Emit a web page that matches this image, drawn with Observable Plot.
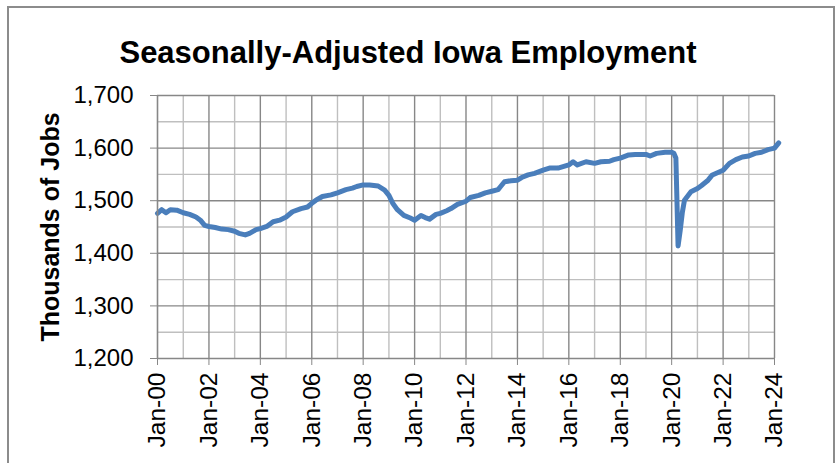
<!DOCTYPE html>
<html>
<head>
<meta charset="utf-8">
<script src="https://cdn.jsdelivr.net/npm/d3@7"></script>
<script src="https://cdn.jsdelivr.net/npm/@observablehq/plot@0.6"></script>
<style>
  html, body { margin: 0; padding: 0; background: #fff; }
  #wrap { position: relative; width: 836px; height: 463px; overflow: hidden; font-family: "Liberation Sans", Arial, sans-serif; }
  #box { position: absolute; left: 7px; top: 6px; width: 824px; height: 480px; border: 2px solid #8c8c8c; }
  #title { position: absolute; left: 0; width: 816px; top: 37px; text-align: center; font-size: 31px; line-height: 1; font-weight: bold; color: #000; }
  #chart { position: absolute; left: 0; top: 0; }
</style>
</head>
<body>
<div id="wrap">
  <div id="box"></div>
  <div id="title">Seasonally-Adjusted Iowa Employment</div>
  <div id="chart"></div>
</div>
<script>
// Data (monthly points, thousands of jobs)
const months = [
  "2000-01","2000-03","2000-05","2000-07","2000-10",
  "2001-01","2001-04","2001-07","2001-09","2001-11",
  "2002-01","2002-04","2002-07","2002-10",
  "2003-01","2003-03","2003-06","2003-08","2003-11",
  "2004-01","2004-04","2004-07","2004-10",
  "2005-01","2005-04","2005-08","2005-11",
  "2006-01","2006-03","2006-06","2006-10",
  "2007-01","2007-05","2007-08","2007-10",
  "2008-01","2008-04","2008-08","2008-11",
  "2009-01","2009-03","2009-05","2009-08","2009-11",
  "2010-01","2010-04","2010-06","2010-08","2010-11",
  "2011-01","2011-04","2011-06","2011-09",
  "2012-01","2012-03","2012-07","2012-10",
  "2013-01","2013-04","2013-05","2013-07","2013-10",
  "2014-01","2014-03","2014-06","2014-09",
  "2015-01","2015-04","2015-08",
  "2016-01","2016-03","2016-05","2016-09",
  "2017-01","2017-04","2017-08","2017-10",
  "2018-01","2018-05","2018-08",
  "2019-01","2019-03","2019-06","2019-10",
  "2020-01","2020-02","2020-03","2020-04","2020-05","2020-06","2020-07","2020-10",
  "2021-01","2021-03","2021-06","2021-08",
  "2022-01","2022-04","2022-07","2022-10",
  "2023-01","2023-04","2023-07","2023-10",
  "2024-01","2024-03"
];
const jobs = [
  1476,1483,1477,1483,1482,
  1477,1474,1469,1463,1453,
  1451,1449,1446,1445,
  1442,1438,1435,1438,1445,
  1447,1451,1460,1463,
  1469,1479,1485,1488,
  1495,1501,1508,1511,
  1515,1521,1524,1527,
  1530,1530,1528,1520,
  1510,1494,1483,1472,1467,
  1463,1472,1468,1465,1474,
  1476,1481,1485,1493,
  1499,1506,1510,1515,
  1518,1521,1526,1536,1538,
  1539,1544,1549,1552,
  1558,1562,1562,
  1568,1574,1568,1574,
  1571,1574,1575,1578,
  1581,1587,1588,
  1588,1585,1590,1592,
  1592,1590,1581,1414,1443,1478,1501,1517,
  1523,1529,1539,1549,
  1558,1571,1578,1583,
  1585,1590,1592,1597,
  1600,1610
];
const xTickYears = [2000,2002,2004,2006,2008,2010,2012,2014,2016,2018,2020,2022,2024];
const yTicks = [1200,1300,1400,1500,1600,1700];
const yLabel = "Thousands of Jobs";

const parse = d3.utcParse("%Y-%m");
const data = months.map((m, i) => ({date: parse(m), value: jobs[i]}));
const yr = y => new Date(Date.UTC(y, 0, 1));
const allYears = d3.range(2001, 2025);
const majorYearDates = allYears.filter(y => y % 2 === 0).map(yr);
const minorYearDates = allYears.filter(y => y % 2 === 1).map(yr);
const majorY = [1300,1400,1500,1600,1700];
const minorY = [1250,1350,1450,1550,1650];

const dark = "#878787", light = "#bfbfbf";

const chart = Plot.plot({
  width: 836,
  height: 463,
  marginLeft: 157,
  marginRight: 62,
  marginTop: 95,
  marginBottom: 105,
  style: {fontFamily: "'Liberation Sans', Arial, sans-serif", background: "transparent", color: "#000", overflow: "visible"},
  x: {type: "utc", domain: [yr(2000), yr(2024)]},
  y: {domain: [1200, 1700]},
  marks: [
    Plot.ruleX(minorYearDates, {x: d => d, stroke: light, strokeWidth: 1.4}),
    Plot.ruleY(minorY, {y: d => d, stroke: light, strokeWidth: 1.4}),
    Plot.ruleX(majorYearDates, {x: d => d, stroke: dark, strokeWidth: 1.4}),
    Plot.ruleY(majorY, {y: d => d, stroke: dark, strokeWidth: 1.4}),
    Plot.line(data, {x: "date", y: "value", stroke: "#4a7ebb", strokeWidth: 5, strokeLinejoin: "round", strokeLinecap: "round"}),
    Plot.ruleY([1200], {y: d => d, stroke: dark, strokeWidth: 1.6}),
    Plot.ruleX([yr(2000)], {x: d => d, stroke: dark, strokeWidth: 1.6}),
    Plot.axisX(xTickYears.map(yr), {label: null, tickFormat: d3.utcFormat("%b-%y"), tickRotate: -90, tickSize: 7, tickPadding: 7, fontSize: 24.5, stroke: dark, fill: "#000"}),
    Plot.axisY(yTicks, {label: null, tickFormat: d3.format(","), tickSize: 7, tickPadding: 17, fontSize: 24, stroke: dark, fill: "#000"}),
    Plot.text([yLabel], {text: d => d, frameAnchor: "left", textAnchor: "middle", lineAnchor: "middle", dx: -107, rotate: -90, fontSize: 25, fontWeight: "bold", fill: "#000"})
  ]
});
document.getElementById("chart").appendChild(chart);
</script>
</body>
</html>
